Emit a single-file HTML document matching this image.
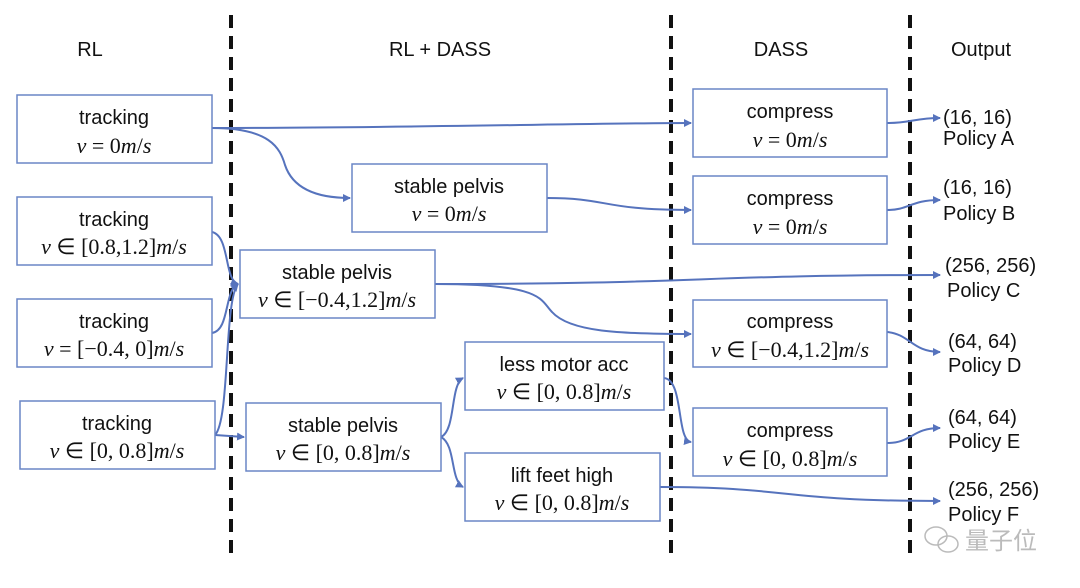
<!DOCTYPE html>
<html><head><meta charset="utf-8"><style>
body{margin:0;background:#fff;}
svg{display:block;}
.t{font-family:"Liberation Sans",sans-serif;font-size:20px;fill:#111;}
.m{font-family:"Liberation Serif",serif;font-size:22px;fill:#111;}
.b{fill:#fff;stroke:#6a86c6;stroke-width:1.5;}
.c{fill:none;stroke:#5673bd;stroke-width:2;}
</style></head><body>
<svg width="1080" height="588" viewBox="0 0 1080 588" xmlns="http://www.w3.org/2000/svg">
<defs><marker id="a" markerWidth="8" markerHeight="8" refX="7" refY="4" orient="auto" markerUnits="userSpaceOnUse"><path d="M0,0 L8,4 L0,8 Z" fill="#5673bd"/></marker></defs>
<g stroke="#111" stroke-width="4" stroke-dasharray="13,8">
<line x1="231" y1="15" x2="231" y2="553"/><line x1="671" y1="15" x2="671" y2="553"/><line x1="910" y1="15" x2="910" y2="553"/></g>
<g class="t" text-anchor="middle"><text x="90" y="56">RL</text><text x="440" y="56">RL + DASS</text><text x="781" y="56">DASS</text><text x="981" y="56">Output</text></g>
<g class="c" marker-end="url(#a)">
<path d="M212,128 C400,128 600,123 691,123"/>
<path d="M212,128 C270,128 280,148 285,165 C295,195 330,198 350,198"/>
<path d="M547,198 C610,198 600,210 691,210"/>
<path d="M212,232 C230,236 224,280 238,284"/>
<path d="M212,333 C230,330 224,290 238,284"/>
<path d="M215,435 C230,420 224,300 238,284"/>
<path d="M215,435 L244,437"/>
<path d="M435,284 C700,284 700,275 940,275"/>
<path d="M435,284 C545,284 540,300 552,312 C570,332 620,334 691,334"/>
<path d="M441,437 C456,430 450,385 463,378"/>
<path d="M441,437 C456,445 450,480 463,487"/>
<path d="M664,378 C684,380 676,440 691,442"/>
<path d="M660,487 C790,487 780,501 940,501"/>
<path d="M887,123 C910,123 915,118 940,118"/>
<path d="M887,210 C910,210 910,200 940,200"/>
<path d="M887,332 C910,334 912,352 940,352"/>
<path d="M887,443 C912,443 912,428 940,428"/>
</g>
<rect class="b" x="17" y="95" width="195" height="68"/>
<rect class="b" x="17" y="197" width="195" height="68"/>
<rect class="b" x="17" y="299" width="195" height="68"/>
<rect class="b" x="20" y="401" width="195" height="68"/>
<rect class="b" x="352" y="164" width="195" height="68"/>
<rect class="b" x="240" y="250" width="195" height="68"/>
<rect class="b" x="246" y="403" width="195" height="68"/>
<rect class="b" x="465" y="342" width="199" height="68"/>
<rect class="b" x="465" y="453" width="195" height="68"/>
<rect class="b" x="693" y="89" width="194" height="68"/>
<rect class="b" x="693" y="176" width="194" height="68"/>
<rect class="b" x="693" y="300" width="194" height="67"/>
<rect class="b" x="693" y="408" width="194" height="68"/>
<g class="t" text-anchor="middle">
<text x="114" y="124">tracking</text><text x="114" y="226">tracking</text><text x="114" y="328">tracking</text><text x="117" y="430">tracking</text>
<text x="449" y="193">stable pelvis</text><text x="337" y="279">stable pelvis</text><text x="343" y="432">stable pelvis</text>
<text x="564" y="371">less motor acc</text><text x="562" y="482">lift feet high</text>
<text x="790" y="118">compress</text><text x="790" y="205">compress</text><text x="790" y="328">compress</text><text x="790" y="437">compress</text>
</g>
<g class="m" text-anchor="middle">
<text x="114" y="153"><tspan font-style="italic">v</tspan> = 0<tspan font-style="italic">m</tspan>/<tspan font-style="italic">s</tspan></text>
<text x="114" y="254"><tspan font-style="italic">v</tspan> ∈ [0.8,1.2]<tspan font-style="italic">m</tspan>/<tspan font-style="italic">s</tspan></text>
<text x="114" y="356"><tspan font-style="italic">v</tspan> = [−0.4, 0]<tspan font-style="italic">m</tspan>/<tspan font-style="italic">s</tspan></text>
<text x="117" y="458"><tspan font-style="italic">v</tspan> ∈ [0, 0.8]<tspan font-style="italic">m</tspan>/<tspan font-style="italic">s</tspan></text>
<text x="449" y="221"><tspan font-style="italic">v</tspan> = 0<tspan font-style="italic">m</tspan>/<tspan font-style="italic">s</tspan></text>
<text x="337" y="307"><tspan font-style="italic">v</tspan> ∈ [−0.4,1.2]<tspan font-style="italic">m</tspan>/<tspan font-style="italic">s</tspan></text>
<text x="343" y="460"><tspan font-style="italic">v</tspan> ∈ [0, 0.8]<tspan font-style="italic">m</tspan>/<tspan font-style="italic">s</tspan></text>
<text x="564" y="399"><tspan font-style="italic">v</tspan> ∈ [0, 0.8]<tspan font-style="italic">m</tspan>/<tspan font-style="italic">s</tspan></text>
<text x="562" y="510"><tspan font-style="italic">v</tspan> ∈ [0, 0.8]<tspan font-style="italic">m</tspan>/<tspan font-style="italic">s</tspan></text>
<text x="790" y="147"><tspan font-style="italic">v</tspan> = 0<tspan font-style="italic">m</tspan>/<tspan font-style="italic">s</tspan></text>
<text x="790" y="234"><tspan font-style="italic">v</tspan> = 0<tspan font-style="italic">m</tspan>/<tspan font-style="italic">s</tspan></text>
<text x="790" y="357"><tspan font-style="italic">v</tspan> ∈ [−0.4,1.2]<tspan font-style="italic">m</tspan>/<tspan font-style="italic">s</tspan></text>
<text x="790" y="466"><tspan font-style="italic">v</tspan> ∈ [0, 0.8]<tspan font-style="italic">m</tspan>/<tspan font-style="italic">s</tspan></text>
</g>
<g class="t">
<text x="943" y="124">(16, 16)</text><text x="943" y="145">Policy A</text>
<text x="943" y="194">(16, 16)</text><text x="943" y="220">Policy B</text>
<text x="945" y="272">(256, 256)</text><text x="947" y="297">Policy C</text>
<text x="948" y="348">(64, 64)</text><text x="948" y="372">Policy D</text>
<text x="948" y="424">(64, 64)</text><text x="948" y="448">Policy E</text>
<text x="948" y="496">(256, 256)</text><text x="948" y="521">Policy F</text>
</g>
<text x="965" y="549" style="font-family:'Noto Sans CJK SC',sans-serif;font-size:24px;fill:#bbb">量子位</text>
<g fill="none" stroke="#bbb" stroke-width="1.5"><ellipse cx="936" cy="536" rx="11" ry="9"/><ellipse cx="948" cy="544" rx="10" ry="8"/></g>
</svg>
</body></html>
